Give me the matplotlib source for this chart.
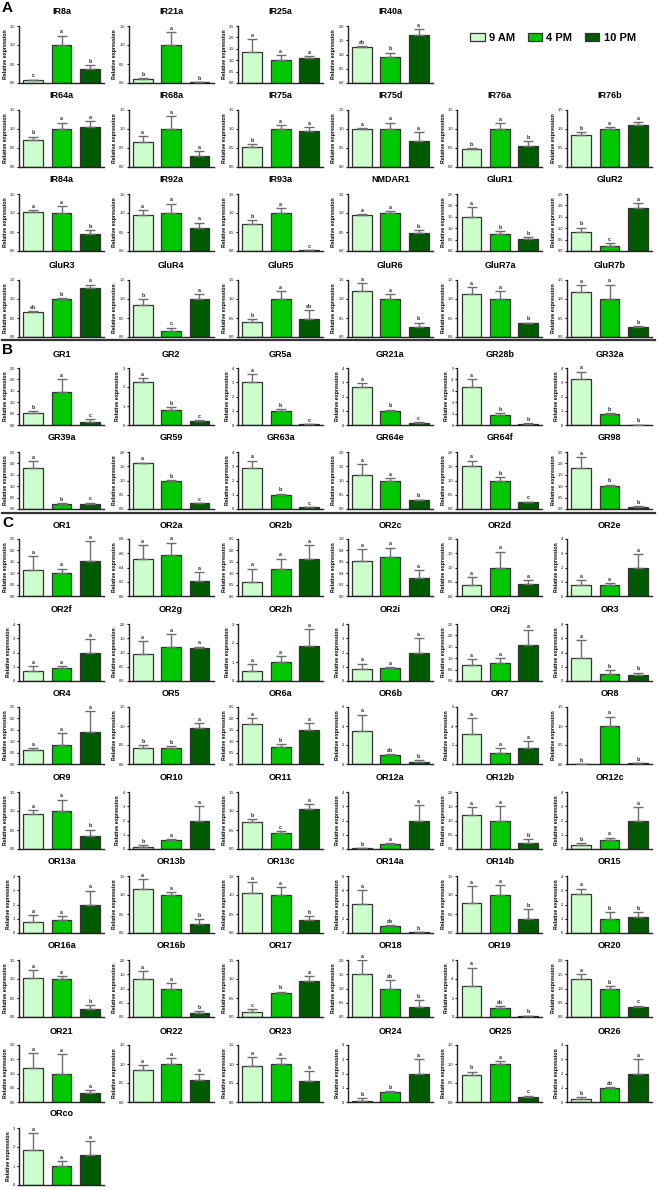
import matplotlib
matplotlib.use('Agg')
import matplotlib.pyplot as plt
from matplotlib.patches import Patch
from matplotlib.lines import Line2D
import numpy as np

plt.rcParams['font.family'] = ['Liberation Sans', 'DejaVu Sans']

times = ['9 AM', '4 PM', '10 PM']
colors = ['#ccffcc', '#00c800', '#005a00']

# ---------------- Section A ----------------
genes_A = ['IR8a', 'IR21a', 'IR25a', 'IR40a',
           'IR64a', 'IR68a', 'IR75a', 'IR75d', 'IR76a', 'IR76b',
           'IR84a', 'IR92a', 'IR93a', 'NMDAR1', 'GluR1', 'GluR2',
           'GluR3', 'GluR4', 'GluR5', 'GluR6', 'GluR7a', 'GluR7b']
mean_A = [[0.07, 1.0, 0.38], [0.10, 1.0, 0.03], [1.38, 1.0, 1.08], [1.27, 0.92, 1.67],
          [0.72, 1.0, 1.06], [0.65, 1.0, 0.30], [0.52, 1.0, 0.94], [1.0, 1.0, 0.68], [0.47, 1.0, 0.56], [0.84, 1.0, 1.10],
          [1.03, 1.0, 0.44], [0.95, 1.0, 0.60], [0.70, 1.0, 0.02], [0.95, 1.0, 0.48], [1.48, 0.75, 0.53], [0.83, 0.20, 1.90],
          [0.66, 1.0, 1.30], [0.83, 0.15, 1.0], [0.40, 1.0, 0.47], [1.22, 1.0, 0.26], [1.12, 1.0, 0.36], [1.18, 1.0, 0.26]]
err_A = [[0.02, 0.25, 0.10], [0.03, 0.35, 0.005], [0.55, 0.22, 0.10], [0.03, 0.15, 0.22],
         [0.08, 0.17, 0.14], [0.17, 0.33, 0.13], [0.08, 0.10, 0.12], [0.02, 0.17, 0.24], [0.02, 0.15, 0.12], [0.07, 0.06, 0.09],
         [0.05, 0.19, 0.12], [0.12, 0.25, 0.15], [0.12, 0.13, 0.0], [0.03, 0.05, 0.08], [0.45, 0.13, 0.08], [0.20, 0.13, 0.20],
         [0.02, 0.02, 0.08], [0.17, 0.10, 0.13], [0.08, 0.20, 0.23], [0.20, 0.13, 0.12], [0.20, 0.20, 0.02], [0.18, 0.38, 0.02]]
sig_A = [['c', 'a', 'b'], ['b', 'a', 'b'], ['a', 'a', 'a'], ['ab', 'b', 'a'],
         ['b', 'a', 'a'], ['a', 'a', 'a'], ['b', 'a', 'a'], ['a', 'a', 'a'], ['b', 'a', 'b'], ['b', 'a', 'a'],
         ['a', 'a', 'b'], ['a', 'a', 'a'], ['b', 'a', 'c'], ['a', 'a', 'b'], ['a', 'b', 'b'], ['b', 'c', 'a'],
         ['ab', 'b', 'a'], ['b', 'c', 'a'], ['b', 'a', 'ab'], ['a', 'a', 'b'], ['a', 'a', 'b'], ['a', 'a', 'b']]
ymax_A = [1.5, 1.5, 2.5, 2.0,
          1.5, 1.5, 1.5, 1.5, 1.5, 1.5,
          1.5, 1.5, 1.5, 1.5, 2.5, 2.5,
          1.5, 1.5, 1.5, 1.5, 1.5, 1.5]
step_A = [0.5] * 22

# ---------------- Section B ----------------
genes_B = ['GR1', 'GR2', 'GR5a', 'GR21a', 'GR28b', 'GR32a',
           'GR39a', 'GR59', 'GR63a', 'GR64e', 'GR64f', 'GR98']
mean_B = [[0.52, 1.45, 0.13], [2.25, 0.78, 0.20], [3.05, 1.0, 0.05], [2.70, 1.0, 0.13], [3.30, 0.88, 0.12], [3.25, 0.80, 0.03],
          [1.78, 0.20, 0.24], [1.60, 1.0, 0.20], [2.85, 1.0, 0.13], [1.18, 1.0, 0.30], [1.50, 1.0, 0.25], [1.78, 1.0, 0.10]]
err_B = [[0.10, 0.58, 0.12], [0.20, 0.17, 0.07], [0.50, 0.13, 0.0], [0.25, 0.08, 0.05], [0.70, 0.17, 0.05], [0.50, 0.05, 0.0],
         [0.32, 0.07, 0.04], [0.03, 0.03, 0.02], [0.55, 0.08, 0.03], [0.40, 0.10, 0.03], [0.20, 0.13, 0.01], [0.50, 0.07, 0.03]]
sig_B = [['b', 'a', 'c'], ['a', 'b', 'c'], ['a', 'b', 'c'], ['a', 'b', 'c'], ['a', 'b', 'b'], ['a', 'b', 'b'],
         ['a', 'b', 'c'], ['a', 'b', 'c'], ['a', 'b', 'c'], ['a', 'a', 'b'], ['a', 'b', 'c'], ['a', 'b', 'b']]
ymax_B = [2.5, 3, 4, 4, 5, 4,
          2.5, 2.0, 4, 2.0, 2.0, 2.5]
step_B = [0.5, 1, 1, 1, 1, 1,
          0.5, 0.5, 1, 0.5, 0.5, 0.5]

# ---------------- Section C ----------------
genes_C = ['OR1', 'OR2a', 'OR2b', 'OR2c', 'OR2d', 'OR2e',
           'OR2f', 'OR2g', 'OR2h', 'OR2i', 'OR2j', 'OR3',
           'OR4', 'OR5', 'OR6a', 'OR6b', 'OR7', 'OR8',
           'OR9', 'OR10', 'OR11', 'OR12a', 'OR12b', 'OR12c',
           'OR13a', 'OR13b', 'OR13c', 'OR14a', 'OR14b', 'OR15',
           'OR16a', 'OR16b', 'OR17', 'OR18', 'OR19', 'OR20',
           'OR21', 'OR22', 'OR23', 'OR24', 'OR25', 'OR26',
           'ORco']
mean_C = [[1.13, 1.0, 1.52], [0.52, 0.58, 0.21], [0.62, 1.17, 1.62], [0.62, 0.68, 0.31], [0.40, 1.0, 0.42], [0.75, 0.78, 1.97],
          [0.68, 0.92, 1.98], [0.96, 1.18, 1.15], [0.55, 1.0, 1.82], [0.82, 0.90, 1.98], [0.70, 0.78, 1.57], [3.20, 1.0, 0.88],
          [0.62, 0.82, 1.42], [0.42, 0.43, 0.95], [1.75, 0.75, 1.48], [3.50, 1.0, 0.22], [3.15, 1.15, 1.70], [0.005, 1.0, 0.02],
          [0.92, 1.0, 0.33], [0.15, 0.65, 2.0], [0.72, 0.43, 1.06], [0.05, 0.35, 2.0], [1.20, 1.0, 0.22], [0.25, 0.60, 2.0],
          [0.78, 0.93, 1.98], [1.16, 1.0, 0.24], [1.06, 1.0, 0.33], [4.05, 1.0, 0.12], [0.80, 1.0, 0.36], [2.72, 1.0, 1.15],
          [1.03, 1.0, 0.20], [1.35, 1.0, 0.13], [0.12, 0.62, 0.95], [1.50, 1.0, 0.35], [3.30, 1.0, 0.10], [1.35, 1.0, 0.35],
          [1.20, 1.0, 0.30], [0.85, 1.0, 0.57], [0.95, 1.0, 0.55], [0.10, 0.70, 2.0], [0.72, 1.0, 0.12], [0.22, 0.95, 2.0],
          [1.82, 1.0, 1.57]]
err_C = [[0.62, 0.20, 0.88], [0.20, 0.17, 0.13], [0.58, 0.47, 0.60], [0.20, 0.17, 0.14], [0.27, 0.56, 0.13], [0.38, 0.12, 0.97],
         [0.38, 0.10, 0.97], [0.44, 0.48, 0.06], [0.35, 0.30, 0.93], [0.40, 0.08, 1.05], [0.28, 0.23, 0.65], [2.60, 0.50, 0.30],
         [0.08, 0.55, 0.90], [0.08, 0.04, 0.12], [0.25, 0.12, 0.30], [1.70, 0.05, 0.20], [1.65, 0.55, 0.70], [0.0, 0.25, 0.0],
         [0.10, 0.30, 0.18], [0.10, 0.05, 1.0], [0.07, 0.04, 0.13], [0.02, 0.08, 1.10], [0.28, 0.50, 0.13], [0.15, 0.20, 0.97],
         [0.45, 0.25, 1.0], [0.27, 0.08, 0.12], [0.27, 0.20, 0.12], [2.0, 0.08, 0.0], [0.44, 0.27, 0.27], [0.40, 0.48, 0.30],
         [0.20, 0.08, 0.12], [0.25, 0.20, 0.07], [0.08, 0.05, 0.13], [0.50, 0.30, 0.25], [1.90, 0.15, 0.05], [0.15, 0.10, 0.05],
         [0.53, 0.68, 0.13], [0.13, 0.16, 0.16], [0.23, 0.15, 0.27], [0.15, 0.05, 1.0], [0.08, 0.07, 0.05], [0.12, 0.07, 1.0],
         [0.90, 0.25, 0.75]]
sig_C = [['a', 'a', 'a'], ['a', 'a', 'a'], ['a', 'a', 'a'], ['a', 'a', 'a'], ['a', 'a', 'a'], ['a', 'a', 'a'],
         ['a', 'a', 'a'], ['a', 'a', 'a'], ['a', 'a', 'a'], ['a', 'a', 'a'], ['a', 'a', 'a'], ['a', 'b', 'b'],
         ['a', 'a', 'a'], ['b', 'b', 'a'], ['a', 'b', 'a'], ['a', 'ab', 'b'], ['a', 'a', 'a'], ['b', 'a', 'b'],
         ['a', 'a', 'b'], ['b', 'a', 'a'], ['b', 'c', 'a'], ['b', 'a', 'a'], ['a', 'a', 'b'], ['b', 'a', 'a'],
         ['a', 'a', 'a'], ['a', 'a', 'b'], ['a', 'a', 'b'], ['a', 'ab', 'b'], ['a', 'a', 'b'], ['a', 'b', 'b'],
         ['a', 'a', 'b'], ['a', 'a', 'b'], ['c', 'b', 'a'], ['a', 'ab', 'b'], ['a', 'ab', 'b'], ['a', 'b', 'c'],
         ['a', 'a', 'a'], ['a', 'a', 'a'], ['a', 'a', 'a'], ['b', 'b', 'a'], ['b', 'a', 'c'], ['b', 'ab', 'a'],
         ['a', 'a', 'a']]
ymax_C = [2.5, 0.8, 2.5, 1.0, 2.0, 4,
          4, 2.0, 3, 4, 2.5, 8,
          2.5, 1.5, 2.5, 6, 6, 1.5,
          1.5, 4, 1.5, 4, 2.0, 4,
          4, 1.5, 1.5, 8, 1.5, 4,
          1.5, 2.0, 1.5, 2.0, 6, 2.0,
          2.0, 1.5, 1.5, 4, 1.5, 4,
          3]
step_C = [0.5, 0.2, 0.5, 0.2, 0.5, 1,
          1, 0.5, 1, 1, 0.5, 2,
          0.5, 0.5, 0.5, 2, 2, 0.5,
          0.5, 1, 0.5, 1, 0.5, 1,
          1, 0.5, 0.5, 2, 0.5, 1,
          0.5, 0.5, 0.5, 0.5, 2, 0.5,
          0.5, 0.5, 0.5, 1, 0.5, 1,
          1]

# ---------------- layout ----------------
W, H = 658, 1190
fig = plt.figure(figsize=(W / 100, H / 100), dpi=100)

COL_LEFT = 19
COL_STEP = 109.6
AX_W = 85


def add_panel(col, title_y, gene, means, errs, sigs, ymax, step):
    left = COL_LEFT + COL_STEP * col
    top = title_y + 14
    bottom = title_y + 71
    ax = fig.add_axes([left / W, 1 - bottom / H, AX_W / W, (bottom - top) / H])
    x = np.arange(3)
    ax.bar(x, means, width=0.7, color=colors, edgecolor='#333333', linewidth=0.9, zorder=2)
    ax.errorbar(x, means, yerr=[np.zeros(3), errs], fmt='none', ecolor='#6e6e6e',
                elinewidth=1.0, capsize=3.4, capthick=1.0, zorder=3)
    for xi, m, e, s in zip(x, means, errs, sigs):
        ax.text(xi, m + e + ymax * 0.02, s, ha='center', va='bottom',
                fontsize=3.8, fontweight='bold', color='#222222')
    ax.set_xlim(-0.5, 2.5)
    ax.set_ylim(0, ymax)
    ticks = np.arange(0, ymax + step / 2, step)
    ax.set_yticks(ticks)
    if step < 1:
        ax.set_yticklabels(['%.1f' % t for t in ticks])
    else:
        ax.set_yticklabels(['%d' % t for t in ticks])
    ax.set_xticks([])
    ax.tick_params(axis='y', labelsize=2.8, length=1.8, width=0.7, pad=1)
    for sp in ['top', 'right']:
        ax.spines[sp].set_visible(False)
    for sp in ['left', 'bottom']:
        ax.spines[sp].set_linewidth(1.0)
        ax.spines[sp].set_color('#222222')
    ax.set_ylabel('Relative expression', fontsize=3.8, fontweight='bold', labelpad=1.5)
    fig.text((left + AX_W / 2) / W, 1 - title_y / H, gene, ha='center', va='center',
             fontsize=6.5, fontweight='bold')
    return ax


def place_section(genes, means, errs, sigs, ymaxs, steps, row_ys, first_row_n=6):
    positions = []
    row = 0
    col = 0
    per_row = first_row_n
    for i in range(len(genes)):
        if col >= per_row:
            row += 1
            col = 0
            per_row = 6
        positions.append((row, col))
        col += 1
    for i, (r, c) in enumerate(positions):
        add_panel(c, row_ys[r], genes[i], means[i], errs[i], sigs[i], ymaxs[i], steps[i])


place_section(genes_A, mean_A, err_A, sig_A, ymax_A, step_A, [12, 96, 180, 266], first_row_n=4)
place_section(genes_B, mean_B, err_B, sig_B, ymax_B, step_B, [354, 438])
place_section(genes_C, mean_C, err_C, sig_C, ymax_C, step_C,
              [525, 610, 693, 778, 862, 946, 1031, 1114])

# section letters
for lab, y in [('A', 8), ('B', 350), ('C', 523)]:
    fig.text(2 / W, 1 - y / H, lab, ha='left', va='center', fontsize=11, fontweight='bold')

# separator lines
for y in [340, 513]:
    fig.add_artist(Line2D([2 / W, 655 / W], [1 - y / H, 1 - y / H], transform=fig.transFigure,
                          color='#333333', linewidth=1.6))

# legend
handles = [Patch(facecolor=c, edgecolor='#333333', linewidth=0.9) for c in colors]
fig.legend(handles=handles, labels=times, loc='center', bbox_to_anchor=(553 / W, 1 - 38 / H),
           ncol=3, frameon=False, prop=dict(weight='bold', size=8),
           handlelength=1.3, handleheight=0.65, handletextpad=0.4, columnspacing=1.1)

fig.savefig('out.png', dpi=100)
